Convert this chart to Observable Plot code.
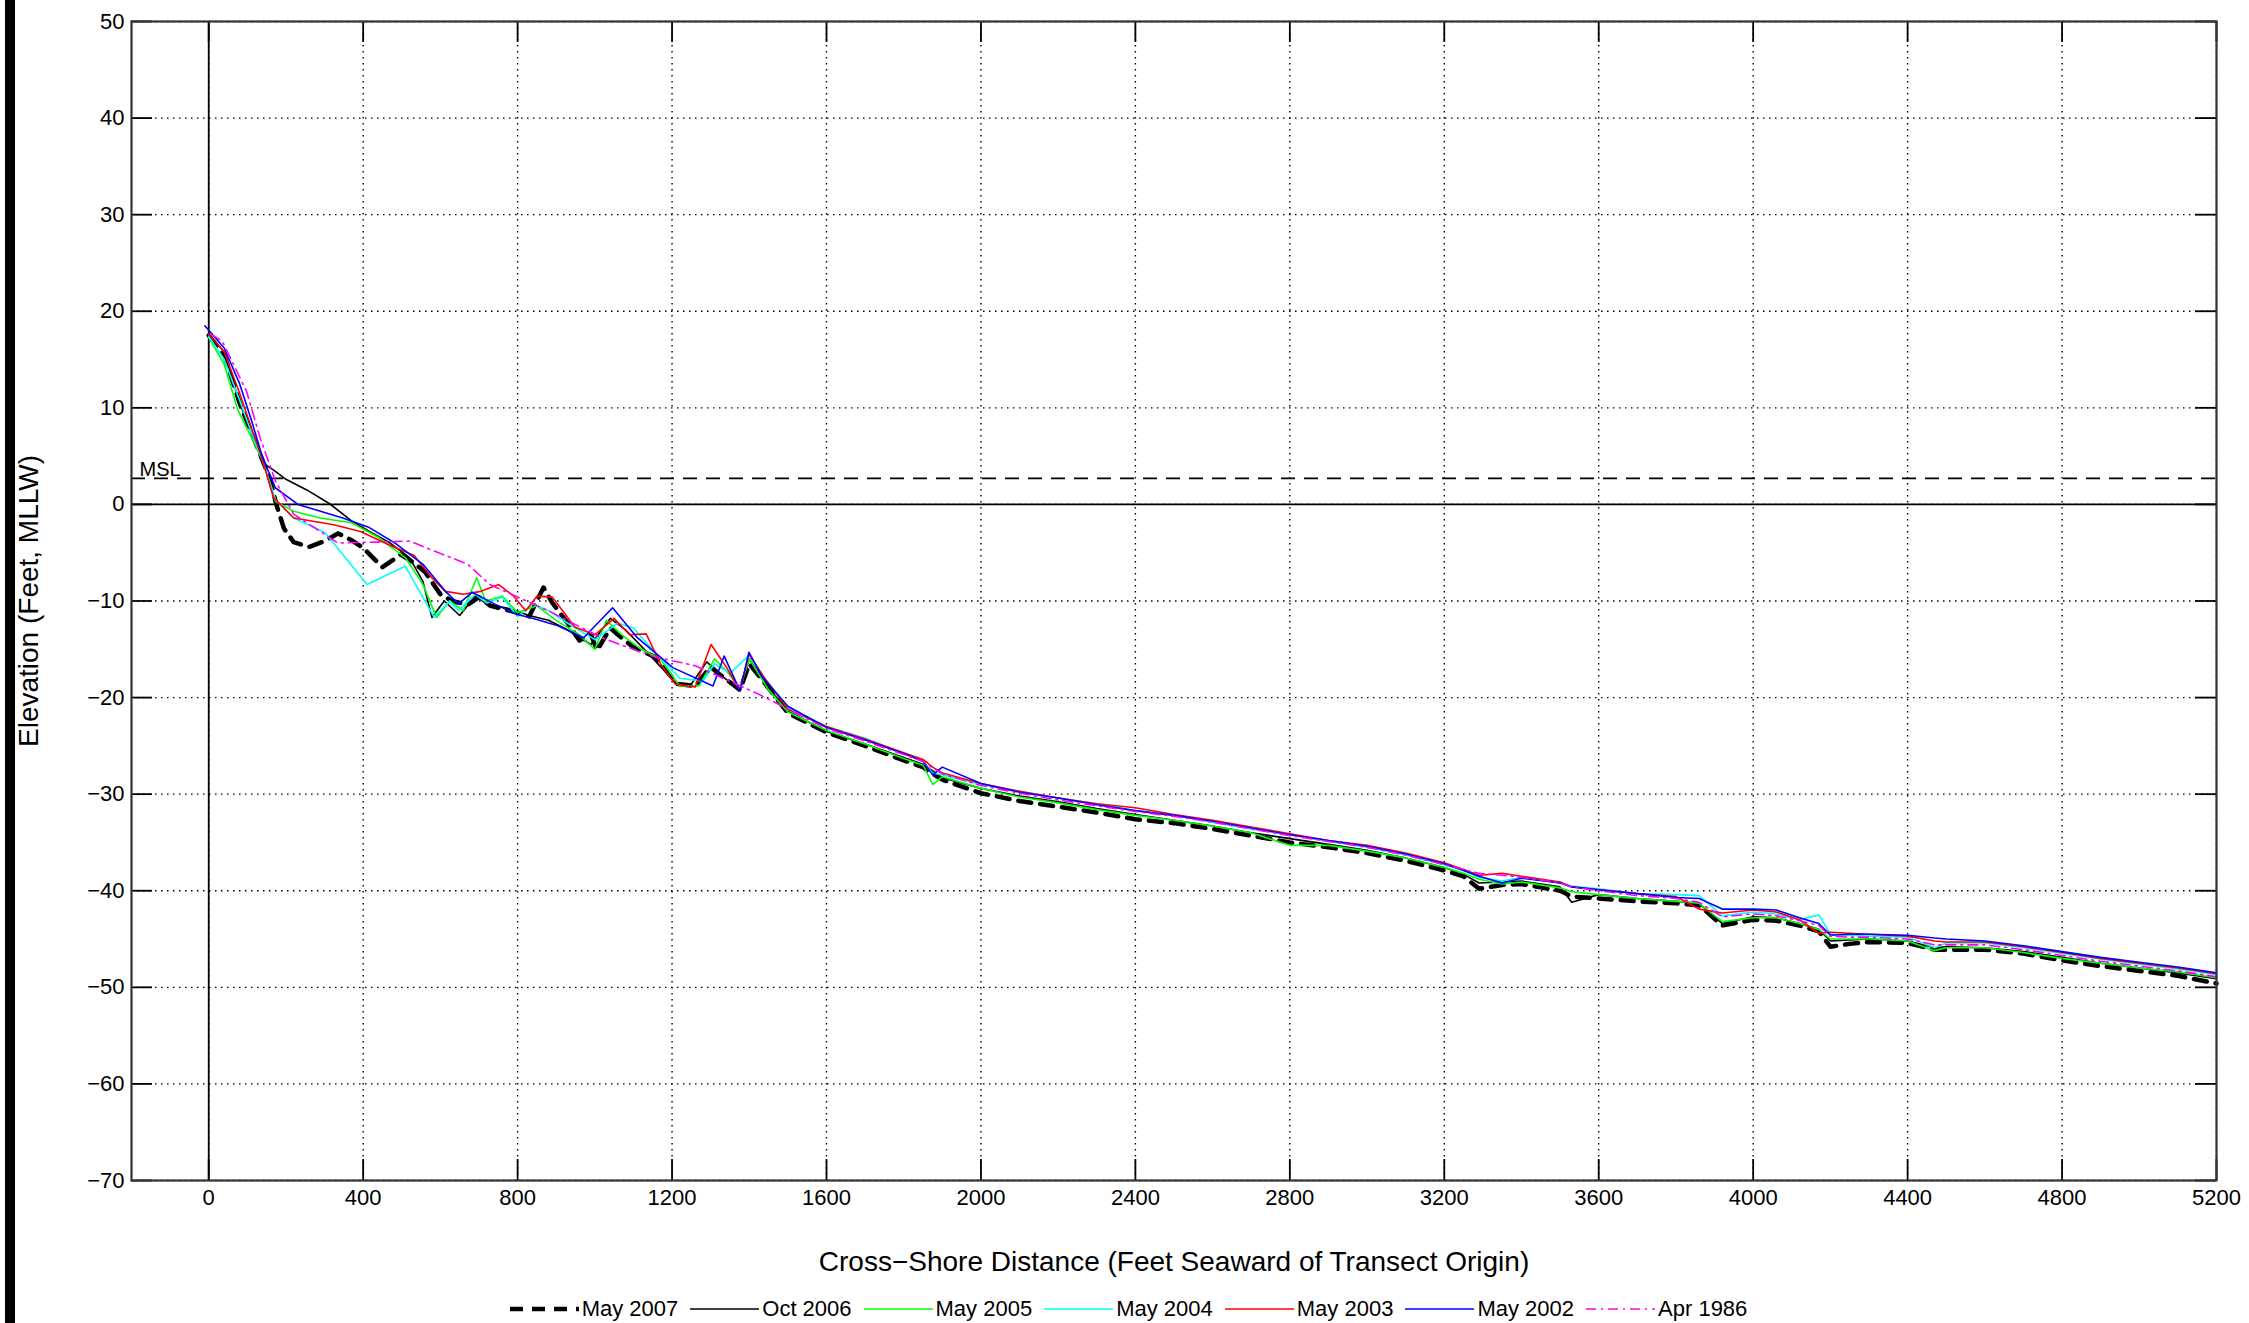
<!DOCTYPE html>
<html>
<head>
<meta charset="utf-8">
<script src="https://cdn.jsdelivr.net/npm/d3@7"></script>
<script src="https://cdn.jsdelivr.net/npm/@observablehq/plot@0.6"></script>
<style>
html, body { margin: 0; padding: 0; background: #fff; }
body { width: 2249px; height: 1323px; position: relative; overflow: hidden; font-family: "Liberation Sans", Arial, sans-serif; }
#chart { position: absolute; left: 0; top: 0; z-index: 1; }
#bar { position: absolute; left: 5px; top: 0; width: 10px; height: 1323px; background: #000; z-index: 5; }
#legend { position: absolute; left: 10px; width: 2249px; top: 1294px; height: 29px; display: flex; justify-content: center; align-items: center; font-size: 22px; color: #000; z-index: 2; }
#legend .item { display: flex; align-items: center; margin-right: 12px; }
#legend svg { margin-right: 3px; }
</style>
</head>
<body>
<div id="chart"></div>
<div id="legend"></div>
<div id="bar"></div>
<script>
// ---- tick labels / categories ----
const xTicks = [0, 400, 800, 1200, 1600, 2000, 2400, 2800, 3200, 3600, 4000, 4400, 4800, 5200];
const yTicks = [50, 40, 30, 20, 10, 0, -10, -20, -30, -40, -50, -60, -70];
const xDomain = [-200, 5200];
const yDomain = [-70, 50];
const seriesNames = ["May 2007", "Oct 2006", "May 2005", "May 2004", "May 2003", "May 2002", "Apr 1986"];
const mslLevel = 2.7;
const mslLabel = "MSL";
const xTitle = "Cross\u2212Shore Distance (Feet Seaward of Transect Origin)";
const yTitle = "Elevation (Feet, MLLW)";

// ---- nearshore profiles: [distance ft, elevation ft] ----
const nearMay2007 = [[0,17.5],[40,15.5],[80,10.5],[100,8.5],[130,5.5],[160,2.5],[175,0],[195,-2.5],[220,-3.9],[260,-4.4],[300,-3.8],[335,-3.0],[370,-3.7],[400,-4.5],[450,-6.5],[497,-5.2],[530,-6.0],[560,-7.0],[600,-9.3],[630,-10.0],[670,-10.4],[700,-9.6],[730,-10.5],[780,-11.0],[830,-11.6],[867,-8.6],[890,-10.2],[930,-12.3],[960,-14.1],[990,-13.5],[1006,-15.1],[1040,-12.8],[1060,-13.5],[1100,-14.8],[1156,-15.8],[1214,-18.6],[1260,-18.8],[1300,-16.8],[1320,-17.5],[1376,-19.2],[1400,-16.5],[1440,-18.5],[1500,-21.6]];
const nearOct2006 = [[0,17.6],[40,15.8],[80,10.5],[110,7.5],[140,4.3],[170,3.5],[200,2.6],[254,1.5],[312,0.1],[370,-1.7],[416,-2.8],[470,-4.0],[520,-5.5],[555,-8.0],[578,-11.7],[610,-10.0],[650,-11.5],[690,-9.5],[720,-10.3],[780,-10.8],[830,-11.5],[880,-12.0],[930,-13.0],[990,-14.5],[1040,-11.8],[1080,-13.0],[1140,-15.5],[1210,-18.5],[1250,-18.6],[1290,-16.3],[1330,-17.8],[1376,-19.2],[1400,-16.0],[1450,-19.0],[1500,-21.4]];
const nearMay2005 = [[0,17.3],[40,14.5],[75,9.8],[110,7.0],[140,4.5],[160,1.8],[173,0.3],[220,-0.7],[289,-1.4],[370,-1.9],[439,-3.4],[509,-5.5],[555,-8.3],[590,-11.7],[624,-10.0],[659,-11.0],[694,-7.6],[717,-10.0],[760,-9.5],[800,-11.2],[850,-10.5],[900,-12.0],[960,-13.5],[1000,-15.0],[1030,-12.0],[1070,-13.5],[1120,-15.0],[1170,-16.0],[1220,-18.8],[1270,-18.8],[1310,-16.0],[1340,-17.2],[1376,-19.0],[1400,-16.0],[1450,-19.2],[1500,-21.5]];
const nearMay2004 = [[0,17.4],[40,15.0],[80,10.8],[110,7.5],[140,4.5],[173,0.5],[220,-1.4],[301,-2.9],[410,-8.3],[509,-6.4],[584,-11.7],[624,-10.0],[647,-11.0],[690,-9.3],[720,-10.2],[760,-9.6],[800,-11.6],[840,-10.3],[880,-11.0],[930,-12.3],[1000,-14.0],[1060,-12.3],[1100,-12.8],[1160,-15.5],[1220,-18.0],[1280,-18.3],[1310,-16.5],[1350,-17.5],[1400,-15.6],[1440,-18.0],[1500,-21.0]];
const nearMay2003 = [[0,17.6],[40,15.8],[80,11.5],[110,8.0],[140,4.5],[168,0.7],[220,-1.4],[324,-2.1],[393,-2.8],[462,-4.1],[532,-5.3],[578,-7.6],[613,-9.0],[659,-9.3],[705,-9.0],[751,-8.3],[790,-9.5],[821,-11.0],[850,-9.5],[890,-9.6],[920,-11.2],[948,-12.7],[1000,-13.5],[1050,-11.8],[1090,-13.5],[1133,-13.4],[1170,-16.5],[1208,-18.6],[1260,-18.9],[1301,-14.5],[1340,-16.8],[1376,-19.3],[1399,-15.5],[1440,-18.0],[1500,-21.2]];
const nearMay2002 = [[-10,18.5],[40,16.2],[80,12.5],[110,8.8],[140,4.8],[173,1.7],[231,0],[347,-1.4],[416,-2.4],[486,-4.1],[555,-6.2],[613,-9.0],[647,-10.3],[682,-9.1],[740,-10.3],[798,-11.4],[832,-11.7],[900,-12.5],[971,-13.8],[1046,-10.7],[1110,-13.8],[1202,-16.9],[1306,-18.8],[1335,-15.7],[1376,-19.3],[1399,-15.3],[1434,-17.9],[1500,-20.9]];
const nearApr1986 = [[6,17.6],[35,16.9],[98,11.7],[133,6.9],[173,2.4],[220,-1.0],[335,-4.0],[520,-3.8],[671,-6.2],[728,-8.3],[879,-11.0],[1017,-13.8],[1156,-15.8],[1260,-16.7],[1422,-19.6],[1500,-21.2]];

// ---- offshore profiles: shared distances, one elevation list per survey ----
const offshoreX = [1600,1700,1800,1850,1875,1900,
  2000,2100,2200,2300,2400,2500,2600,2700,2800,2900,3000,3100,3200,
  3250,3290,3350,3400,3500,3530,3600,
  3700,3800,3860,3920,4000,4060,4120,4170,4200,4250,4300,
  4400,4470,4500,4600,4700,4800,4900,5000,5100,5200];
const offMay2007 = [-23.6,-25.0,-26.5,-27.2,-27.9,-28.5,
  -29.9,-30.7,-31.3,-31.9,-32.6,-33.0,-33.6,-34.3,-35.0,-35.5,-36.1,-36.9,-37.9,
  -38.5,-39.8,-39.4,-39.3,-40.0,-40.6,-40.8,
  -41.1,-41.3,-41.5,-43.6,-43.0,-43.1,-43.6,-44.2,-45.8,-45.5,-45.3,
  -45.4,-46.1,-46.1,-46.1,-46.5,-47.2,-47.8,-48.3,-48.8,-49.6];
const offOct2006 = [-23.5,-24.8,-26.2,-26.9,-27.6,-28.3,
  -29.4,-30.2,-30.8,-31.5,-32.1,-32.7,-33.3,-34.0,-34.6,-35.2,-35.8,-36.6,-37.6,
  -38.3,-39.2,-39.1,-39.0,-39.6,-41.2,-40.4,
  -40.8,-41.1,-41.3,-43.4,-42.7,-42.8,-43.4,-44.0,-45.2,-45.1,-45.0,
  -45.2,-45.9,-45.8,-45.9,-46.3,-46.9,-47.5,-48.0,-48.5,-49.1];
const offMay2005 = [-23.4,-24.8,-26.3,-27.0,-29.0,-28.2,
  -29.4,-30.3,-30.9,-31.6,-32.2,-32.7,-33.3,-34.0,-35.3,-35.3,-35.9,-36.6,-37.6,
  -38.2,-38.8,-39.3,-39.1,-39.7,-40.1,-40.4,
  -40.8,-41.1,-41.3,-43.2,-42.8,-42.8,-43.4,-44.0,-45.0,-45.0,-45.0,
  -45.2,-46.2,-45.9,-45.9,-46.4,-47.0,-47.5,-48.0,-48.4,-49.0];
const offMay2004 = [-23.0,-24.2,-25.8,-26.6,-27.8,-28.0,
  -29.0,-29.7,-30.4,-31.0,-31.7,-32.2,-32.9,-33.6,-34.2,-34.9,-35.5,-36.3,-37.3,
  -37.9,-38.6,-39.0,-38.6,-39.2,-39.5,-39.8,
  -40.3,-40.4,-40.5,-42.6,-42.2,-42.4,-43.0,-42.5,-44.5,-44.6,-44.7,
  -44.8,-45.9,-45.4,-45.4,-45.9,-46.5,-47.1,-47.6,-48.1,-48.7];
const offMay2003 = [-23.0,-24.3,-25.7,-26.4,-27.2,-27.8,
  -28.9,-29.7,-30.4,-31.0,-31.4,-32.1,-32.7,-33.4,-34.1,-34.8,-35.3,-36.1,-37.1,
  -37.8,-38.4,-38.2,-38.5,-39.1,-39.6,-39.9,
  -40.3,-40.6,-41.9,-42.3,-42.0,-42.2,-43.0,-44.4,-44.3,-44.4,-44.5,
  -44.7,-45.2,-45.3,-45.3,-45.8,-46.4,-47.0,-47.5,-48.0,-48.6];
const offMay2002 = [-23.1,-24.4,-25.8,-26.6,-28.0,-27.2,
  -28.9,-29.8,-30.4,-31.1,-31.7,-32.2,-32.8,-33.5,-34.2,-34.8,-35.4,-36.2,-37.2,
  -37.9,-38.5,-39.2,-38.7,-39.2,-39.6,-39.9,
  -40.3,-40.7,-40.8,-41.9,-41.9,-42.0,-42.8,-43.4,-44.6,-44.5,-44.5,
  -44.6,-44.9,-45.0,-45.2,-45.7,-46.3,-46.9,-47.4,-47.9,-48.5];
const offApr1986 = [-23.2,-24.5,-25.9,-26.6,-27.3,-27.9,
  -29.1,-29.9,-30.6,-31.2,-31.8,-32.3,-32.9,-33.6,-34.3,-34.9,-35.5,-36.3,-37.3,
  -37.8,-38.2,-38.4,-38.6,-39.2,-39.6,-40.0,
  -40.5,-40.8,-41.2,-42.7,-42.4,-42.6,-43.1,-43.6,-44.7,-44.8,-44.8,
  -45.0,-45.6,-45.6,-45.6,-46.1,-46.7,-47.3,-47.8,-48.3,-48.9];

// ---- styles (kept apart from data) ----
const seriesStyles = [
  {stroke: "#000000", strokeWidth: 4.5, strokeDasharray: "13,9"},
  {stroke: "#000000", strokeWidth: 1.6, strokeDasharray: null},
  {stroke: "#00ff00", strokeWidth: 1.6, strokeDasharray: null},
  {stroke: "#00ffff", strokeWidth: 1.6, strokeDasharray: null},
  {stroke: "#ff0000", strokeWidth: 1.6, strokeDasharray: null},
  {stroke: "#0000ff", strokeWidth: 1.6, strokeDasharray: null},
  {stroke: "#ff00ff", strokeWidth: 1.6, strokeDasharray: "10,5,2,5"}
];

const nearAll = [nearMay2007, nearOct2006, nearMay2005, nearMay2004, nearMay2003, nearMay2002, nearApr1986];
const offAll = [offMay2007, offOct2006, offMay2005, offMay2004, offMay2003, offMay2002, offApr1986];
const seriesRows = nearAll.map((near, i) =>
  near.map(([x, y]) => ({x, y})).concat(offshoreX.map((x, j) => ({x, y: offAll[i][j]}))));

const W = 2249, H = 1285, mL = 131, mR = 33, mT = 21, mB = 105;
const plotW = W - mL - mR, plotH = H - mT - mB;
const tickLen = 21;
const gridStyle = {stroke: "#000", strokeOpacity: 1, strokeWidth: 1.4, strokeDasharray: "1.5,4.5"};
const minus = d => d < 0 ? "\u2212" + Math.abs(d) : String(d);

const chart = Plot.plot({
  width: W, height: H,
  marginLeft: mL, marginRight: mR, marginTop: mT, marginBottom: mB,
  x: {domain: xDomain},
  y: {domain: yDomain},
  style: {fontFamily: "'Liberation Sans', Arial, sans-serif", fontSize: "22px", color: "#000", background: "#fff"},
  marks: [
    Plot.gridX(xTicks, gridStyle),
    Plot.gridY(yTicks, gridStyle),
    Plot.ruleX([0], {stroke: "#000", strokeWidth: 1.8}),
    Plot.ruleY([0], {stroke: "#000", strokeWidth: 1.8}),
    Plot.ruleY([mslLevel], {stroke: "#000", strokeWidth: 1.8, strokeDasharray: "14,9"}),
    Plot.text([mslLabel], {y: () => mslLevel, frameAnchor: "left", dx: 8, dy: -2, textAnchor: "start", lineAnchor: "bottom", fontSize: 20, fill: "#000"}),
    ...seriesRows.map((rows, i) => Plot.line(rows, {x: "x", y: "y", ...seriesStyles[i], strokeLinejoin: "round"})),
    Plot.tickX(xTicks, {x: d => d, insetTop: plotH - tickLen, stroke: "#000", strokeWidth: 1.8}),
    Plot.tickX(xTicks, {x: d => d, insetBottom: plotH - tickLen, stroke: "#000", strokeWidth: 1.8}),
    Plot.tickY(yTicks, {y: d => d, insetRight: plotW - tickLen, stroke: "#000", strokeWidth: 1.8}),
    Plot.tickY(yTicks, {y: d => d, insetLeft: plotW - tickLen, stroke: "#000", strokeWidth: 1.8}),
    Plot.frame({stroke: "#333", strokeWidth: 2.2}),
    Plot.axisX(xTicks, {anchor: "bottom", tickSize: 0, tickPadding: 9, tickFormat: d => String(d), label: null, fontSize: 22}),
    Plot.axisY(yTicks, {anchor: "left", tickSize: 0, tickPadding: 7, tickFormat: minus, label: null, fontSize: 22}),
    Plot.text([xTitle], {frameAnchor: "bottom", dy: 82, textAnchor: "middle", lineAnchor: "middle", fontSize: 28, fill: "#000"}),
    Plot.text([yTitle], {frameAnchor: "left", dx: -102, rotate: -90, textAnchor: "middle", lineAnchor: "middle", fontSize: 28, fill: "#000"})
  ]
});
document.getElementById("chart").appendChild(chart);

// ---- legend ----
const legend = document.getElementById("legend");
seriesNames.forEach((name, i) => {
  const s = seriesStyles[i];
  const item = document.createElement("div");
  item.className = "item";
  const dash = s.strokeDasharray ? `stroke-dasharray="${s.strokeDasharray}"` : "";
  item.innerHTML = `<svg width="69" height="20"><line x1="0" x2="69" y1="10" y2="10" stroke="${s.stroke}" stroke-width="${s.strokeWidth}" ${dash}/></svg><span>${name}</span>`;
  legend.appendChild(item);
});
</script>
</body>
</html>
